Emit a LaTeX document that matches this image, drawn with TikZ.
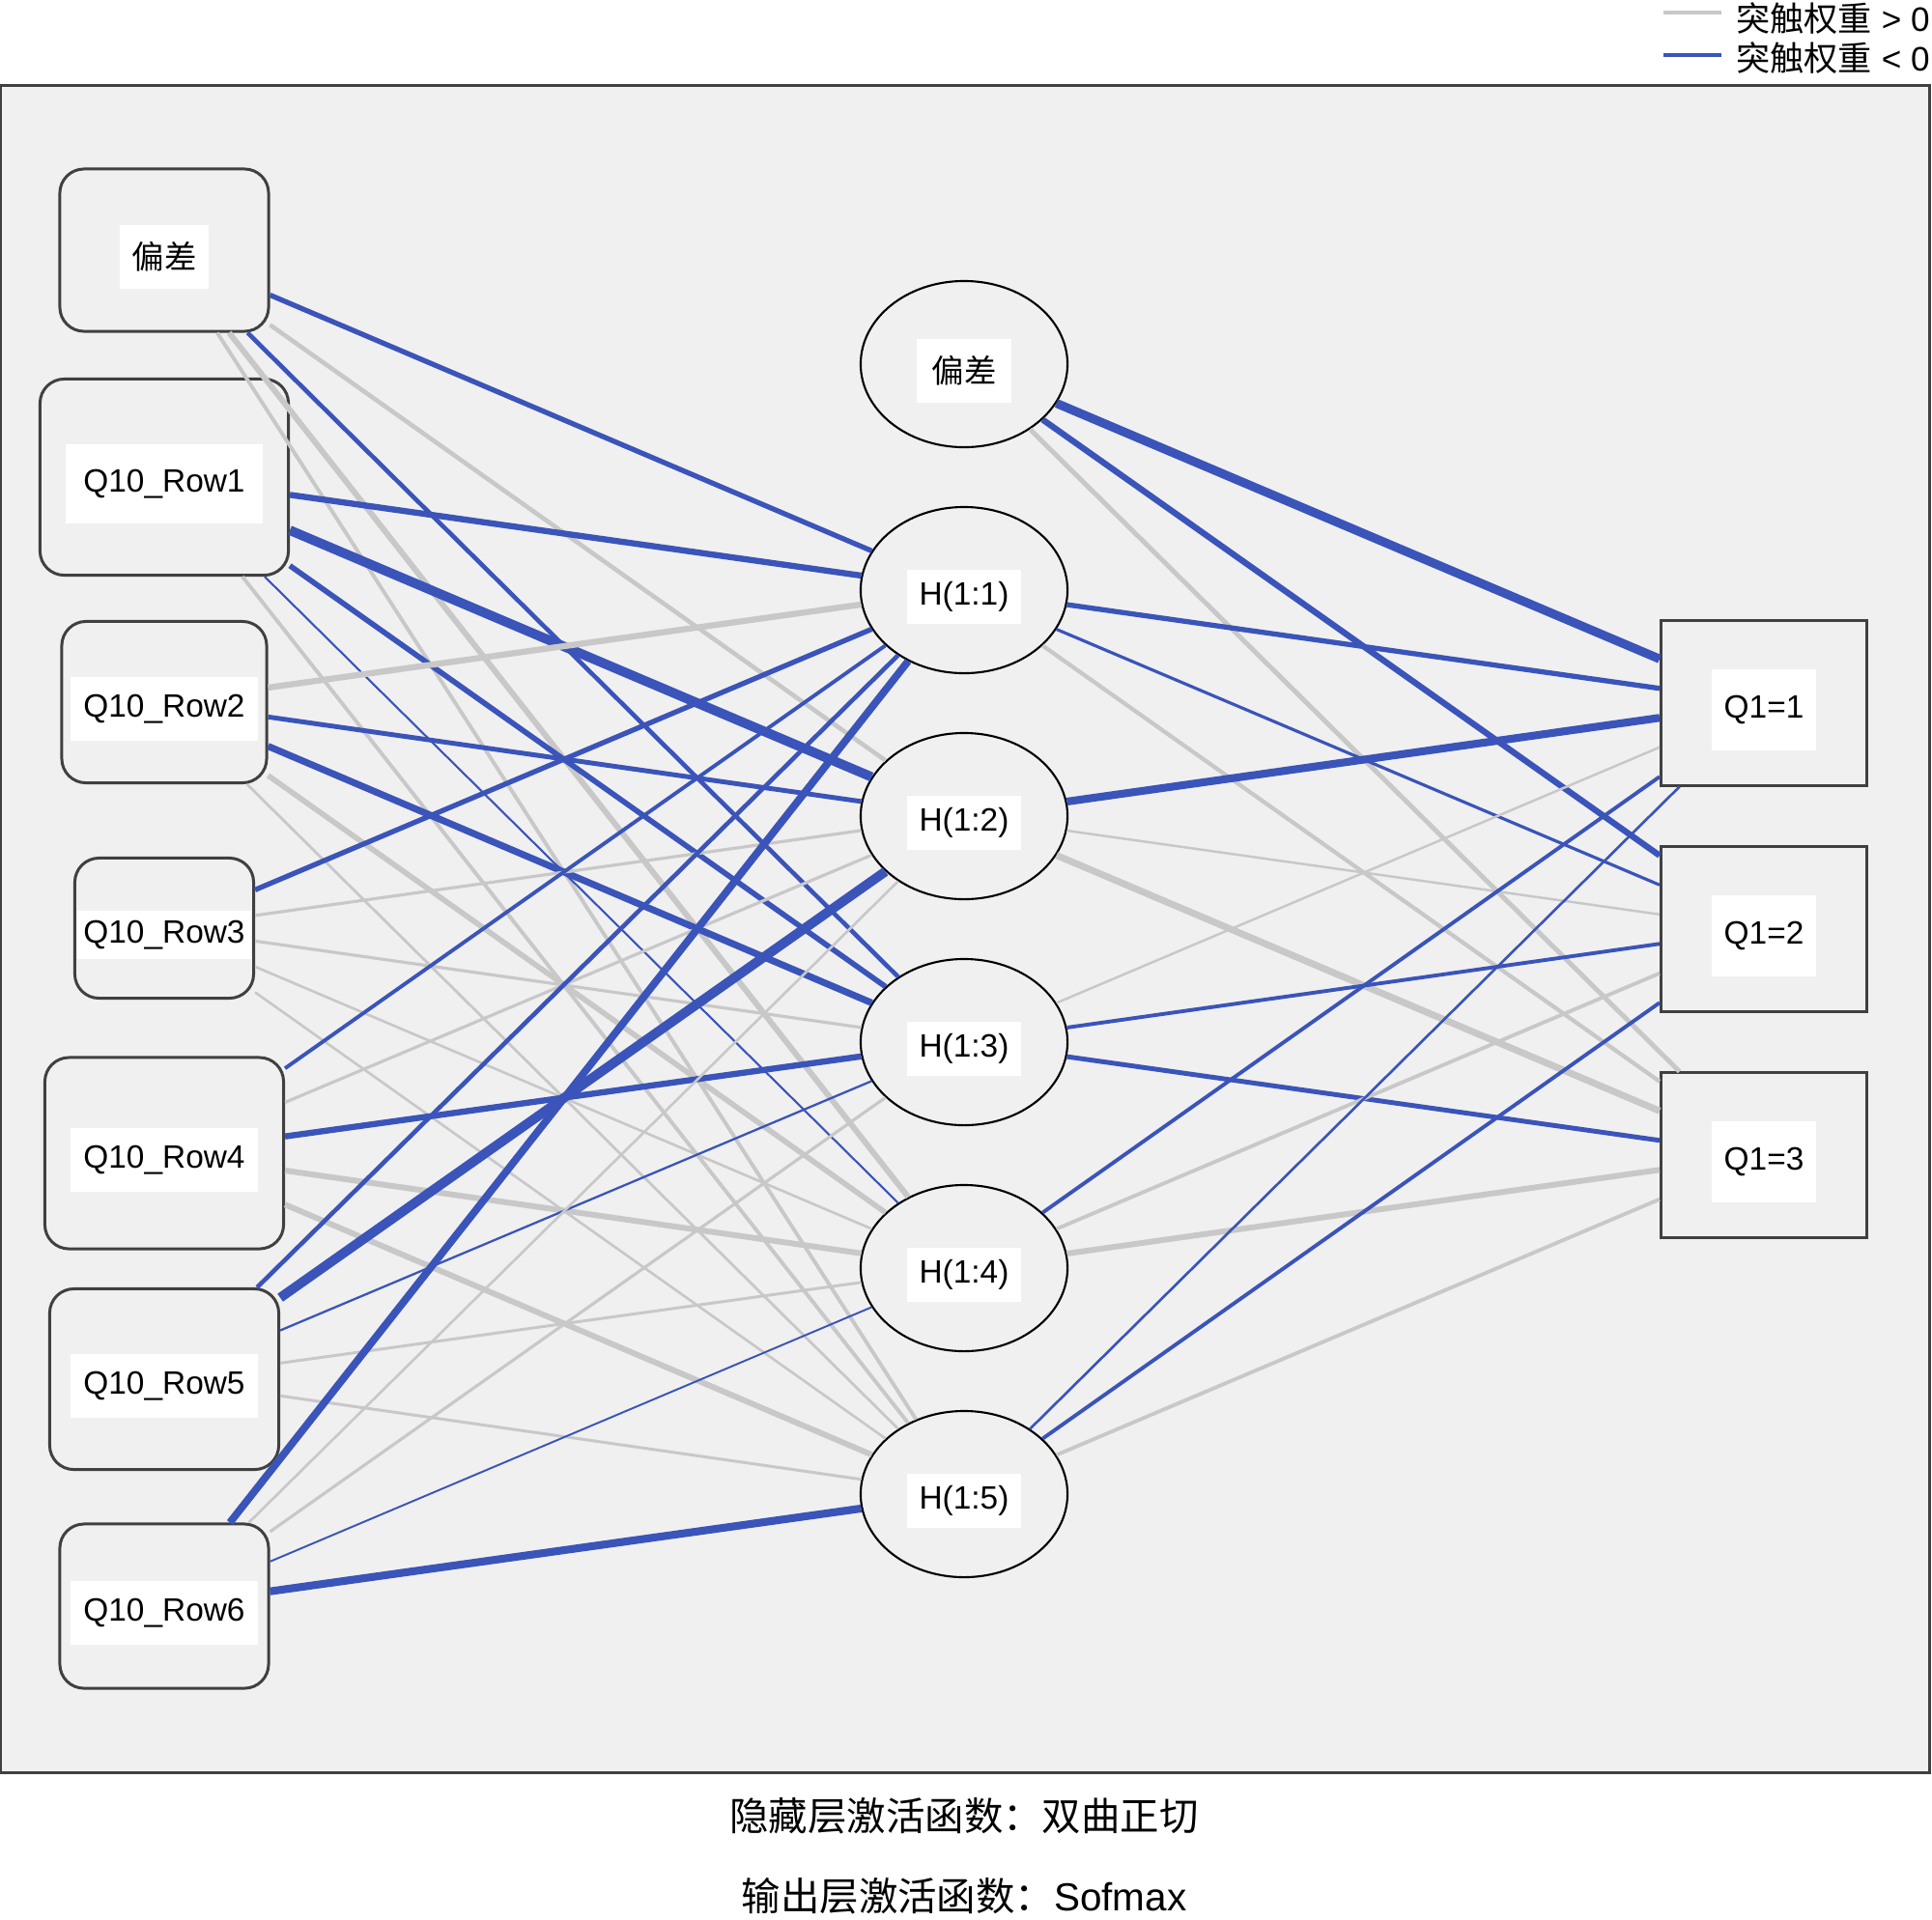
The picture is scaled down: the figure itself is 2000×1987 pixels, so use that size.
\documentclass[tikz,border=0pt]{standalone}
\usepackage{fontspec}
\setmainfont{Liberation Sans}
\newfontfamily\cjk{Noto Sans CJK SC}
\usepackage{tikz}
\usetikzlibrary{shapes.geometric}

\definecolor{wneg}{RGB}{58,84,186}
\definecolor{wpos}{RGB}{200,200,200}
\definecolor{panel}{RGB}{240,240,240}
\definecolor{rim}{RGB}{64,64,64}

\tikzset{
	inbox/.style={draw=rim, line width=0.85pt, rounded corners=0.25cm, fill=panel, inner sep=0pt},
	hid/.style={ellipse, draw=black, line width=0.6pt, fill=panel, minimum width=2.14cm, minimum height=1.72cm, inner sep=0pt},
	outbox/.style={draw=rim, line width=0.85pt, fill=panel, minimum width=2.13cm, minimum height=1.7cm, inner sep=0pt},
	tag/.style={fill=white, inner xsep=0.13cm, inner ysep=0.18cm, yshift=-0.07cm, font=\fontsize{9.5}{11}\selectfont},
	keytext/.style={anchor=west, font=\fontsize{10}{12}\selectfont, inner sep=0pt, xshift=0.13cm},
	plus/.style={draw=wpos, line width=#1},
	minus/.style={draw=wneg, line width=#1},
}

\begin{document}
\begin{tikzpicture}[x=0.01cm, y=-0.01cm]
	\useasboundingbox (0,0) rectangle (2000,1987);
	% Panel:
	\draw[rim, fill=panel, line width=0.85pt] (1,88) rectangle (1997,1835);
	% Legend:
	\draw[plus=1.4pt] (1722,13) -- (1782,13) node[keytext, yshift=-0.06cm] (keypos) {{\cjk 突触权重}\ >\ 0};
	\draw[minus=1.4pt] (1722,57) -- (1782,57) node[keytext, yshift=-0.03cm] (keyneg) {{\cjk 突触权重}\ <\ 0};
	% Input layer:
	\node[inbox, minimum width=2.16cm, minimum height=1.68cm, label={[tag]center:{\cjk 偏差}}] (in0) at (170,259){};
	\node[inbox, minimum width=2.57cm, minimum height=2.03cm, label={[tag, inner xsep=0.18cm, inner ysep=0.26cm]center:{Q10\_Row1}}] (in1) at (170,494){};
	\node[inbox, minimum width=2.12cm, minimum height=1.67cm, label={[tag]center:{Q10\_Row2}}] (in2) at (170,727){};
	\node[inbox, minimum width=1.85cm, minimum height=1.45cm, label={[tag, inner xsep=0.06cm, inner ysep=0.1cm]center:{Q10\_Row3}}] (in3) at (170,961){};
	\node[inbox, minimum width=2.47cm, minimum height=1.98cm, label={[tag]center:{Q10\_Row4}}] (in4) at (170,1194){};
	\node[inbox, minimum width=2.37cm, minimum height=1.87cm, label={[tag]center:{Q10\_Row5}}] (in5) at (170,1428){};
	\node[inbox, minimum width=2.16cm, minimum height=1.70cm, label={[tag]center:{Q10\_Row6}}] (in6) at (170,1663){};
	% Hidden layer:
	\node[hid, label={[tag, inner xsep=0.16cm]center:{\cjk 偏差}}] (hb) at (998,377){};
	\node[hid, label={[tag, inner ysep=0.12cm]center:{H(1:1)}}] (h1) at (998,611){};
	\node[hid, label={[tag, inner ysep=0.12cm]center:{H(1:2)}}] (h2) at (998,845){};
	\node[hid, label={[tag, inner ysep=0.12cm]center:{H(1:3)}}] (h3) at (998,1079){};
	\node[hid, label={[tag, inner ysep=0.12cm]center:{H(1:4)}}] (h4) at (998,1313){};
	\node[hid, label={[tag, inner ysep=0.12cm]center:{H(1:5)}}] (h5) at (998,1547){};
	% Output layer:
	\node[outbox, label={[tag, inner ysep=0.27cm]center:{Q1=1}}] (out1) at (1826,728){};
	\node[outbox, label={[tag, inner ysep=0.27cm]center:{Q1=2}}] (out2) at (1826,962){};
	\node[outbox, label={[tag, inner ysep=0.27cm]center:{Q1=3}}] (out3) at (1826,1196){};
	% Weights, input -> hidden:
	\draw[minus=1.5pt] (in0) -- (h1);
	\draw[plus=1.3pt] (in0) -- (h2);
	\draw[minus=1.3pt] (in0) -- (h3);
	\draw[plus=1.7pt] (in0) -- (h4);
	\draw[plus=1.1pt] (in0) -- (h5);
	\draw[minus=1.8pt] (in1) -- (h1);
	\draw[minus=2.8pt] (in1) -- (h2);
	\draw[minus=1.6pt] (in1) -- (h3);
	\draw[minus=0.6pt] (in1) -- (h4);
	\draw[plus=1.1pt] (in1) -- (h5);
	\draw[plus=1.8pt] (in2) -- (h1);
	\draw[minus=1.4pt] (in2) -- (h2);
	\draw[minus=2pt] (in2) -- (h3);
	\draw[plus=1.6pt] (in2) -- (h4);
	\draw[plus=0.8pt] (in2) -- (h5);
	\draw[minus=1.5pt] (in3) -- (h1);
	\draw[plus=0.9pt] (in3) -- (h2);
	\draw[plus=0.9pt] (in3) -- (h3);
	\draw[plus=0.75pt] (in3) -- (h4);
	\draw[plus=0.75pt] (in3) -- (h5);
	\draw[minus=1.1pt] (in4) -- (h1);
	\draw[plus=0.9pt] (in4) -- (h2);
	\draw[minus=1.8pt] (in4) -- (h3);
	\draw[plus=1.7pt] (in4) -- (h4);
	\draw[plus=1.7pt] (in4) -- (h5);
	\draw[minus=1.3pt] (in5) -- (h1);
	\draw[minus=2.8pt] (in5) -- (h2);
	\draw[minus=0.65pt] (in5) -- (h3);
	\draw[plus=0.85pt] (in5) -- (h4);
	\draw[plus=0.85pt] (in5) -- (h5);
	\draw[minus=2.2pt] (in6) -- (h1);
	\draw[plus=0.75pt] (in6) -- (h2);
	\draw[plus=0.9pt] (in6) -- (h3);
	\draw[minus=0.55pt] (in6) -- (h4);
	\draw[minus=2.3pt] (in6) -- (h5);
	% Weights, hidden -> output:
	\draw[minus=2.6pt] (hb) -- (out1);
	\draw[minus=1.8pt] (hb) -- (out2);
	\draw[plus=1.4pt] (hb) -- (out3);
	\draw[minus=1.5pt] (h1) -- (out1);
	\draw[minus=0.9pt] (h1) -- (out2);
	\draw[plus=1.2pt] (h1) -- (out3);
	\draw[minus=2.3pt] (h2) -- (out1);
	\draw[plus=0.7pt] (h2) -- (out2);
	\draw[plus=2pt] (h2) -- (out3);
	\draw[plus=0.7pt] (h3) -- (out1);
	\draw[minus=1.1pt] (h3) -- (out2);
	\draw[minus=1.4pt] (h3) -- (out3);
	\draw[minus=1.1pt] (h4) -- (out1);
	\draw[plus=1.1pt] (h4) -- (out2);
	\draw[plus=1.7pt] (h4) -- (out3);
	\draw[minus=0.75pt] (h5) -- (out1);
	\draw[minus=1.1pt] (h5) -- (out2);
	\draw[plus=1.1pt] (h5) -- (out3);
	% Notes:
	\node[font=\cjk\fontsize{11.5}{14}\selectfont] (note1) at (998,1880){隐藏层激活函数：双曲正切};
	\node[font=\fontsize{11.5}{14}\selectfont] (note2) at (998,1963){{\cjk 输出层激活函数：}Sofmax};
\end{tikzpicture}
\end{document}
